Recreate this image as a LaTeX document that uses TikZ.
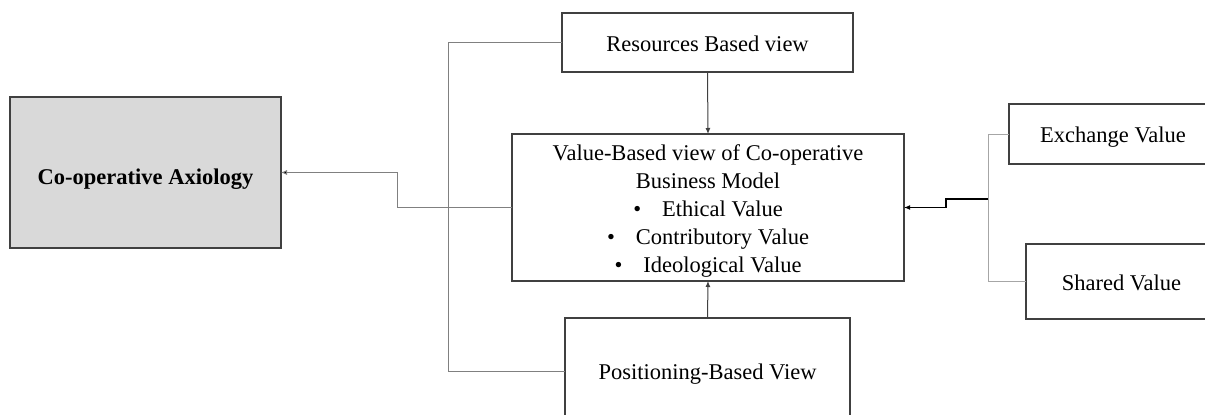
\documentclass[tikz,border=0pt]{standalone}
\usepackage{fontspec}
\setmainfont{Liberation Serif}
\usetikzlibrary{arrows.meta}
\definecolor{boxline}{HTML}{404040}
\definecolor{axfill}{HTML}{D9D9D9}
\definecolor{conn}{HTML}{808080}
\definecolor{connlight}{HTML}{A6A6A6}
\begin{document}
\begin{tikzpicture}[x=1pt,y=-1pt,
  txt/.style={font=\fontsize{22.5}{28}\selectfont},
  boxnode/.style={draw=boxline,line width=1.1pt,rectangle,inner sep=0pt,outer sep=0pt,txt,align=center},
  oneline/.style={boxnode,text height=20pt,text depth=3pt},
  axbox/.style={boxnode,fill=axfill,line width=1.4pt,font=\fontsize{22.5}{28}\selectfont\bfseries,text height=26pt,text depth=2pt},
  grayconn/.style={draw=conn,line width=0.8pt},
  lightconn/.style={draw=connlight,line width=0.9pt},
  darkarrow/.style={draw=boxline,line width=1pt,-{Latex[length=6pt,width=5pt]}},
  boldarrow/.style={draw=black,line width=1.5pt,-{Latex[length=6pt,width=5pt]}},
  grayarrow/.style={grayconn,-{Latex[length=6pt,width=5pt,fill=black]}}
]
\useasboundingbox (0,0) rectangle (1205,415);
\clip (0,0) rectangle (1205,415);
\fill[white] (0,0) rectangle (1205,415);

\node[axbox,minimum width=271pt,minimum height=151pt] (ax) at (145.5,172.5) {Co-operative Axiology};
\node[oneline,minimum width=291pt,minimum height=59pt] (res) at (707.5,42.5) {Resources Based view};
\node[boxnode,minimum width=392pt,minimum height=147pt] (val) at (708,207.5)
  {\rule{0pt}{23.5pt}Value-Based view of Co-operative\\Business Model\\
   •\hspace{21pt}Ethical Value\\
   •\hspace{21pt}Contributory Value\\
   •\hspace{21pt}Ideological Value};
\node[oneline,minimum width=285pt,minimum height=106pt] (pos) at (707.5,371) {Positioning-Based View};
\node[oneline,minimum width=208pt,minimum height=60pt] (exc) at (1113,134) {Exchange Value};
\node[oneline,minimum width=191pt,minimum height=75pt] (sha) at (1121.5,281.5) {Shared Value};

\coordinate (lx) at (448,0);
\coordinate (bx) at (397,0);
\coordinate (rx) at (988,0);
\coordinate (j1) at (988,199);
\coordinate (j2) at (946,199);

\draw[darkarrow] (res.south) -- (val.north);
\draw[darkarrow] (pos.north) -- (val.south);
\draw[grayconn] (res.west) -- (res.west -| lx) -- (pos.west -| lx) -- (pos.west);
\draw[grayarrow] (val.west) -- (val.west -| bx) -- (ax.east -| bx) -- (ax.east);
\draw[lightconn] (exc.west) -- (exc.west -| rx) -- (sha.west -| rx) -- (sha.west);
\draw[boldarrow] (j1) -- (j2) -- (j2 |- val.east) -- (val.east);
\end{tikzpicture}
\end{document}
